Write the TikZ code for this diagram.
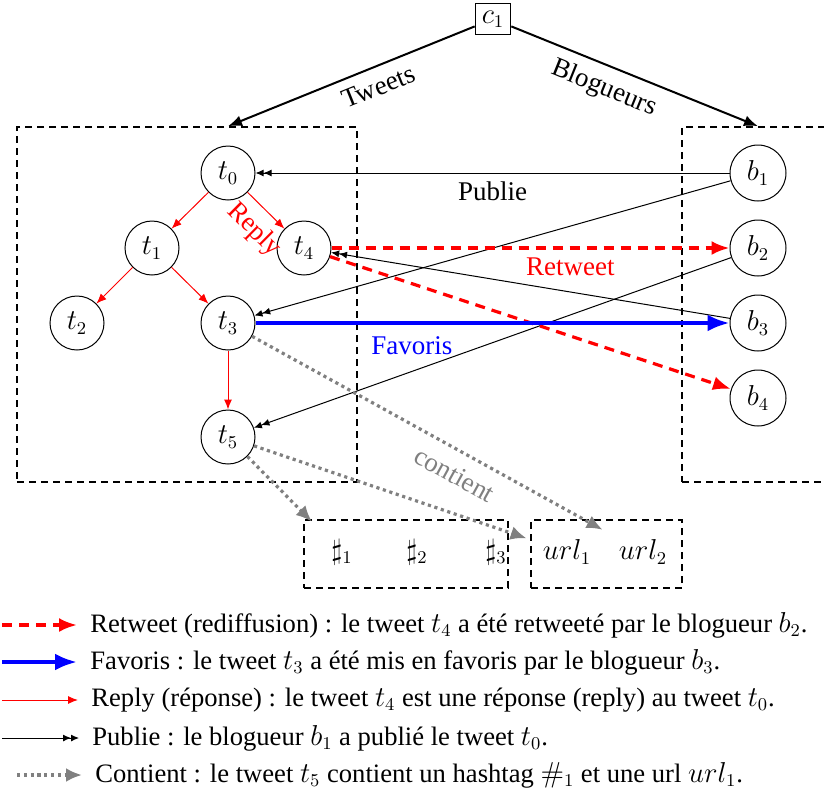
\documentclass[tikz,border=0pt]{standalone}
\usepackage[no-math]{fontspec}
\setmainfont{Liberation Serif}
\usetikzlibrary{arrows.meta}
\begin{document}
\begin{tikzpicture}[x=0.5pt,y=-0.5pt,
  every node/.style={font=\fontsize{13.5}{16}\selectfont},
  tw/.style={circle,draw,line width=0.5pt,minimum size=27pt,inner sep=0pt},
  gbox/.style={draw,line width=0.8pt,dash pattern=on 3.5pt off 2.5pt,inner sep=0pt},
  toparrow/.style={line width=1pt,-{Latex[length=7pt,width=5.5pt]}},
  reply/.style={red,line width=0.5pt,-{Latex[length=5pt,width=4pt]}},
  retweet/.style={red,line width=1.6pt,dash pattern=on 5pt off 3.5pt,-{Latex[length=9pt,width=7pt]}},
  favoris/.style={blue,line width=2pt,-{Latex[length=11pt,width=8.5pt]}},
  publie/.style={black,line width=0.5pt,-{Latex[length=4pt,width=3.5pt]Latex[length=4pt,width=3.5pt]}},
  contient/.style={gray,line width=1.6pt,dash pattern=on 1.6pt off 1.8pt,-{Latex[length=8pt,width=7pt]}},
  hnode/.style={minimum size=30pt,inner sep=0pt},
  unode/.style={minimum width=40pt,minimum height=30pt,inner sep=0pt},
  legtext/.style={anchor=west,inner xsep=6.5pt,inner ysep=0pt,font=\fontsize{13.3}{15}\selectfont}
]
\clip (0,0) rectangle (824,793);

% top
\node[draw,line width=0.5pt,inner sep=0.3333em] (c1) at (493,19) {$c_1$};
\node[gbox,minimum width=170pt,minimum height=177.5pt] (tbox) at (187,304.5) {};
\node[gbox,minimum width=76pt,minimum height=177.5pt] (bbox) at (758,304.5) {};

% tweets
\node[tw] (t0) at (228,173) {$t_0$};
\node[tw] (t1) at (152,248) {$t_1$};
\node[tw] (t4) at (304,248) {$t_4$};
\node[tw] (t2) at (77,323) {$t_2$};
\node[tw] (t3) at (228,323) {$t_3$};
\node[tw] (t5) at (228,437) {$t_5$};

% bloggers
\node[tw,minimum size=28pt] (b1) at (758,173) {$b_1$};
\node[tw,minimum size=28pt] (b2) at (758,248) {$b_2$};
\node[tw,minimum size=28pt] (b3) at (758,323) {$b_3$};
\node[tw,minimum size=28pt] (b4) at (758,398) {$b_4$};

% hashtags and urls
\node[gbox,minimum width=102pt,minimum height=34pt] (hbox) at (406,554) {};
\node[gbox,minimum width=75.5pt,minimum height=34pt] (ubox) at (606.5,554) {};
\node[hnode] (h1) at (342,552) {$\sharp_1$};
\node[hnode] (h2) at (417,552) {$\sharp_2$};
\node[hnode] (h3) at (496,552) {$\sharp_3$};
\node[unode] (u1) at (567,552) {$url_1$};
\node[unode] (u2) at (643,552) {$url_2$};

% top arrows
\draw[toparrow] (c1) -- node[pos=0.42,sloped,below=1.5pt] {Tweets} (t0 |- tbox.north);
\draw[toparrow] (c1) -- node[pos=0.41,sloped,below=1.5pt] {Blogueurs} (b1 |- bbox.north);

% publie
\draw[publie] (b1) -- node[midway,below=1pt] {Publie} (t0);
\draw[publie] (b1) -- (t3);
\draw[publie] (b2) -- (t5);
\draw[publie] (b3) -- (t4);

% reply
\draw[reply] (t0) -- (t1);
\draw[reply] (t0) -- node[pos=0.6,sloped,below=1.5pt] {Reply} (t4);
\draw[reply] (t1) -- (t2);
\draw[reply] (t1) -- (t3);
\draw[reply] (t3) -- (t5);

% retweet
\draw[retweet] (t4) -- node[pos=0.6,below=1pt] {Retweet} (b2);
\draw[retweet] (t4) -- (b4);

% favoris
\draw[favoris] (t3) -- node[pos=0.33,below=2.5pt] {Favoris} (b3);

% contient
\draw[contient] (t3) -- node[pos=0.61,sloped,below=3pt] {contient} (u2);
\draw[contient] (t5) -- (h1);
\draw[contient] (t5) -- (u1);

% legend
\coordinate (l1) at (2,625);
\coordinate (l2) at (2,662);
\coordinate (l3) at (2,700);
\coordinate (l4) at (2,738);
\coordinate (l5) at (17,775);
\node[legtext] (g1) at (77,625) {Retweet (rediffusion) : le tweet $t_4$ a été retweeté par le blogueur $b_2$.};
\node[legtext] (g2) at (77,662) {Favoris : le tweet $t_3$ a été mis en favoris par le blogueur $b_3$.};
\node[legtext] (g3) at (78,700) {Reply (réponse) : le tweet $t_4$ est une réponse (reply) au tweet $t_0$.};
\node[legtext] (g4) at (79,738) {Publie : le blogueur $b_1$ a publié le tweet $t_0$.};
\node[legtext] (g5) at (82,775) {Contient : le tweet $t_5$ contient un hashtag $\#_1$ et une url $url_1$.};
\draw[retweet] (l1) -- (g1.west);
\draw[favoris] (l2) -- (g2.west);
\draw[reply] (l3) -- (g3.west);
\draw[publie] (l4) -- (g4.west);
\draw[contient] (l5) -- (g5.west);
\end{tikzpicture}
\end{document}
